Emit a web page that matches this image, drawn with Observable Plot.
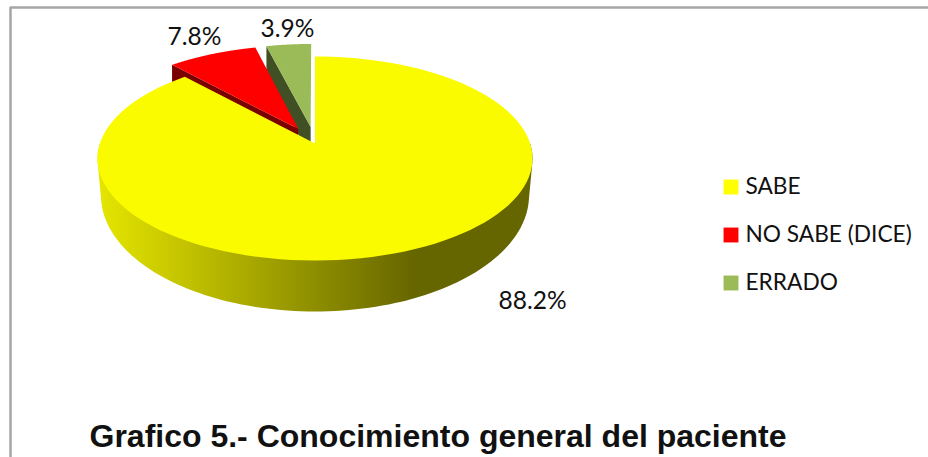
<!DOCTYPE html>
<html>
<head>
<meta charset="utf-8">
<style>html,body{margin:0;padding:0;background:#fff;overflow:hidden}</style>
<script src="https://cdn.jsdelivr.net/npm/d3@7"></script>
<script src="https://cdn.jsdelivr.net/npm/@observablehq/plot@0.6"></script>
</head>
<body>
<div id="chart"></div>
<script>
const categories = ["SABE", "NO SABE (DICE)", "ERRADO"];
const shares = [88.2, 7.8, 3.9];
const topColors = ["#fbfb00", "#ff0000", "#9bbb59"];
const sideColors = ["url(#sideGrad)", "#7a0000", "#414f25"];
const legendColors = ["#ffff00", "#ff0000", "#9bbb59"];
const explode = [0, 0.17, 0.17];
const titleText = "Grafico 5.- Conocimiento general del paciente";

const width = 928, height = 457;
const topFace = {cx: 314.5, cy: 158, rx: 217.5, ry: 102, a: -0.147};
const baseFace = {cx: 314.5, cy: 195, rx: 214, ry: 116, a: -0.2};
const wallDepth = 30;

// disk coordinates -> page position, with the perspective of the tilted pie
function project(u, v, f) {
  const d = 1 + f.a * v;
  return {x: f.cx + f.rx * u * Math.sqrt(1 - f.a * f.a) / d, y: f.cy + f.ry * (v + f.a) / d};
}
const total = d3.sum(shares);
const ends = d3.cumsum(shares).map(c => c / total * 2 * Math.PI);
const slices = shares.map((s, i) => {
  const start = i ? ends[i - 1] : 0, end = ends[i], mid = (start + end) / 2;
  return {start, end, du: Math.sin(mid) * explode[i], dv: -Math.cos(mid) * explode[i]};
});
const rim = (s, t, f) => project(Math.sin(t) + s.du, -Math.cos(t) + s.dv, f);
const apex = (s, f) => project(s.du, s.dv, f);
const arc = (s, f, a = s.start, b = s.end) => d3.range(0, 1.0001, 1 / 120).map(k => rim(s, a + (b - a) * k, f));
const drop = p => ({x: p.x, y: p.y + wallDepth});

const polygon = (pts, fill) => Plot.line(pts, {x: "x", y: "y", fill, stroke: "none"});

function sliceMarks(i) {
  const s = slices[i];
  const top = [apex(s, topFace), ...arc(s, topFace)];
  if (i === 0) {
    const pts = [...arc(s, topFace, Math.PI / 2, 1.5 * Math.PI), ...arc(s, baseFace, Math.PI / 2, 1.5 * Math.PI)];
    const hull = d3.polygonHull(pts.map(p => [p.x, p.y])).map(([x, y]) => ({x, y}));
    return [polygon(hull, sideColors[i]), polygon(top, topColors[i])];
  }
  // the cut face on the start-angle side
  const a = apex(s, topFace), b = rim(s, s.start, topFace);
  return [polygon([a, b, drop(b), drop(a)], sideColors[i]), polygon(top, topColors[i])];
}

const defs = () => {
  const d = d3.create("svg:defs");
  const g = d.append("linearGradient").attr("id", "sideGrad").attr("gradientUnits", "userSpaceOnUse")
    .attr("x1", 97).attr("x2", 413).attr("y1", 0).attr("y2", 0);
  g.append("stop").attr("offset", 0).attr("stop-color", "#e6e600");
  g.append("stop").attr("offset", 1).attr("stop-color", "#666600");
  return d.node();
};

const legendRows = categories.map((name, i) => ({name, color: legendColors[i], row: i}));
const labelRows = shares.map((v, i) => ({text: v.toFixed(1) + "%", pos: i}));
const labelAt = [{x: 532, y: 301}, {x: 194, y: 37}, {x: 287, y: 29}];
const legendY = d => 186.5 + 48 * d.row;

const chart = Plot.plot({
  width, height, margin: 0,
  x: {domain: [0, width], range: [0, width], axis: null},
  y: {domain: [0, height], range: [0, height], axis: null},
  style: {background: "#fff"},
  marks: [
    defs,
    Plot.ruleY([7], {x1: 10, x2: width, stroke: "#a6a6a6", strokeWidth: 2.5}),
    Plot.ruleX([10], {y1: 7, y2: height, stroke: "#a6a6a6", strokeWidth: 2.5}),
    ...sliceMarks(2), ...sliceMarks(1), ...sliceMarks(0),
    Plot.text(labelRows, {x: d => labelAt[d.pos].x, y: d => labelAt[d.pos].y, text: "text",
      fontFamily: "Lato", fontSize: 24.5, fill: "#111"}),
    Plot.dot(legendRows, {x: () => 730.5, y: legendY, symbol: "square", r: 8.4, fill: "color", stroke: "none"}),
    Plot.text(legendRows, {x: () => 745, y: legendY, text: "name", textAnchor: "start",
      fontFamily: "Lato", fontSize: 22.7, fill: "#111"}),
    Plot.text([titleText], {x: () => 89, y: () => 436, text: d => d, textAnchor: "start",
      fontFamily: "Liberation Sans", fontWeight: "bold", fontSize: 32, fill: "#111"})
  ],
  color: {type: "identity"}
});
document.getElementById("chart").appendChild(chart);
</script>
</body>
</html>
